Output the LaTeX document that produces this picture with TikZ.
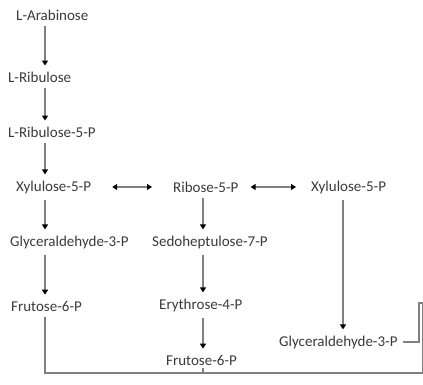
\documentclass[tikz,border=0pt]{standalone}
\usepackage{fontspec}
\setmainfont{Carlito}
\usetikzlibrary{arrows.meta}
\definecolor{txtgray}{HTML}{3A3A3A}
\definecolor{linegray}{HTML}{808080}
\begin{document}
\begin{tikzpicture}[x=1pt,y=-1pt,
	met/.style={anchor=west, inner sep=2pt, text=txtgray, font=\fontsize{15}{17}\selectfont},
	flow/.style={draw=linegray, line width=1.5pt, -{Triangle[length=5pt,width=6pt,black]}, shorten <=4pt, shorten >=4pt},
	both/.style={draw=linegray, line width=1.5pt, {Triangle[length=5pt,width=6pt,black]}-{Triangle[length=5pt,width=6pt,black]}},
	wire/.style={draw=linegray, line width=1.5pt}]
\useasboundingbox (0,0) rectangle (423,384);

\node[met] (arab) at (14,15) {L-Arabinose};
\node[met] (ribu) at (6,77) {L-Ribulose};
\node[met] (ribup) at (6,132) {L-Ribulose-5-P};
\node[met] (xylA) at (14,187) {Xylulose-5-P};
\node[met] (glyA) at (8,242) {Glyceraldehyde-3-P};
\node[met] (fruA) at (9,306) {Frutose-6-P};

\node[met] (rib) at (171,187) {Ribose-5-P};
\node[met] (sedo) at (150,242) {Sedoheptulose-7-P};
\node[met] (ery) at (157,305) {Erythrose-4-P};
\node[met] (fruB) at (164,360) {Frutose-6-P};

\node[met] (xylB) at (309,187) {Xylulose-5-P};
\node[met] (glyB) at (277,342) {Glyceraldehyde-3-P};

\coordinate (colA) at (45,0);
\coordinate (colB) at (203,0);
\coordinate (colC) at (343,0);
\coordinate (base) at (0,373);
\coordinate (edge) at (422.5,0);
\coordinate (kink) at (419,303);

\draw[flow] (arab.south -| colA) -- (ribu.north -| colA);
\draw[flow] (ribu.south -| colA) -- (ribup.north -| colA);
\draw[flow] (ribup.south -| colA) -- (xylA.north -| colA);
\draw[flow] (xylA.south -| colA) -- (glyA.north -| colA);
\draw[flow] (glyA.south -| colA) -- (fruA.north -| colA);

\draw[flow] (rib.south -| colB) -- (sedo.north -| colB);
\draw[flow] (sedo.south -| colB) -- (ery.north -| colB);
\draw[flow] (ery.south -| colB) -- (fruB.north -| colB);

\draw[flow] (xylB.south -| colC) -- (glyB.north -| colC);

\draw[both, shorten <=19pt, shorten >=19pt] (xylA.east) -- (rib.west);
\draw[both, shorten <=10pt, shorten >=13pt] (rib.east) -- (xylB.west);

\draw[wire] ([yshift=-4pt]fruA.south -| colA) -- (base -| colA) -- (base -| edge) -- (kink -| edge) -- (kink) -- (kink |- glyB.east) -- ([xshift=3pt]glyB.east);
\draw[wire] ([yshift=-1pt]fruB.south -| colB) -- (base -| colB);
\end{tikzpicture}
\end{document}
